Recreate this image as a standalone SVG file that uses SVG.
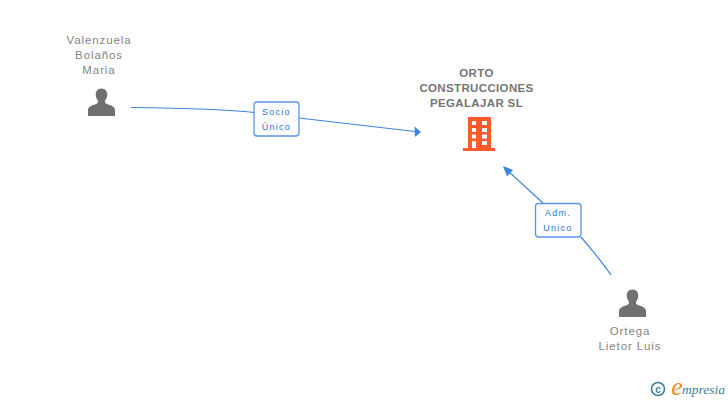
<svg xmlns="http://www.w3.org/2000/svg" width="728" height="400" viewBox="0 0 728 400">
<style>
text{font-family:"Liberation Sans",Arial,sans-serif}
.n{font-size:11.5px;fill:#858585;text-anchor:middle;letter-spacing:.9px}
.b{font-size:11.5px;fill:#757575;text-anchor:middle;font-weight:bold;letter-spacing:.35px}
.l{font-size:9px;fill:#2f77d0;text-anchor:middle;letter-spacing:1.25px}
.c{fill:none;stroke:#3f83e0;stroke-width:1.2}
.a{fill:#3f83e0}
.r{fill:#fcfdff;stroke:#5b96e6;stroke-width:1.3}
.p{fill:#707070}
</style>
<defs>
<path id="person" d="M0-14.500C-3.800-14.500-5.800-11.600-5.800-8.400C-5.800-6-4.900-3.800-3.600-2.500L-3.600-.8C-3.600.3-5 .9-7.500 1.800C-11.600 3.200-13.500 4.600-13.500 7.500L-13.500 13L13.500 13L13.500 7.500C13.500 4.600 11.600 3.200 7.500 1.800C5 .9 3.600.3 3.600-.8L3.600-2.500C4.900-3.800 5.800-6 5.800-8.400C5.800-11.600 3.800-14.500 0-14.500Z"/>
</defs>
<g id="connectors">
<path class="c" d="M131 107.500C180 108 225 109 254 112.500"/>
<path class="c" d="M299 118L415 131.500"/>
<path class="a" d="M421 132L414.500 126.500L415 137Z"/>
<path class="c" d="M611 275C600 259 590 248 581 237"/>
<path class="c" d="M543 203L508 171"/>
<path class="a" d="M503 166L513 170L507 176.500Z"/>
</g>
<g id="node-valenzuela">
<text class="n" x="99" y="44">Valenzuela</text>
<text class="n" x="99" y="59">Bolaños</text>
<text class="n" x="99" y="74">Maria</text>
<use class="p" href="#person" x="101.500" y="103"/>
</g>
<g id="node-orto">
<text class="b" x="476.500" y="77">ORTO</text>
<text class="b" x="476.500" y="92">CONSTRUCCIONES</text>
<text class="b" x="476.500" y="107">PEGALAJAR SL</text>
<path fill="#ff5a2c" fill-rule="evenodd" d="M468 117H491V148H495V151H463V148H468ZM472 121V125H476V121ZM482 121V125H487V121ZM472 128V132H476V128ZM482 128V132H487V128ZM472 134.500V138.500H476V134.500ZM482 134.500V138.500H487V134.500ZM472 141V148H476V141ZM482 141V145H487V141Z"/>
</g>
<g id="node-ortega">
<use class="p" href="#person" x="632.500" y="304"/>
<text class="n" x="630" y="335">Ortega</text>
<text class="n" x="630" y="350">Lietor Luis</text>
</g>
<g id="label-socio">
<rect class="r" x="254" y="102" width="45" height="34" rx="3"/>
<text class="l" x="276.500" y="115">Socio</text>
<text class="l" x="276.500" y="130">Único</text>
</g>
<g id="label-adm">
<rect class="r" x="535.500" y="203.500" width="45.500" height="33.500" rx="3"/>
<text class="l" x="558" y="216">Adm.</text>
<text class="l" x="558" y="231">Unico</text>
</g>
<g id="logo">
<circle cx="658" cy="389" r="6.500" fill="none" stroke="#3d7f9c" stroke-width="1.600"/>
<text x="658" y="392.500" font-size="10" font-weight="bold" fill="#3d7f9c" text-anchor="middle">c</text>
<text x="677" y="395" font-size="26" font-style="italic" fill="#f08a1d" text-anchor="middle" style="font-family:'Liberation Serif',serif">e</text>
<text x="682" y="394" font-size="13.500" font-style="italic" fill="#3d7f9c" style="font-family:'Liberation Serif',serif">mpresia</text>
</g>
</svg>
